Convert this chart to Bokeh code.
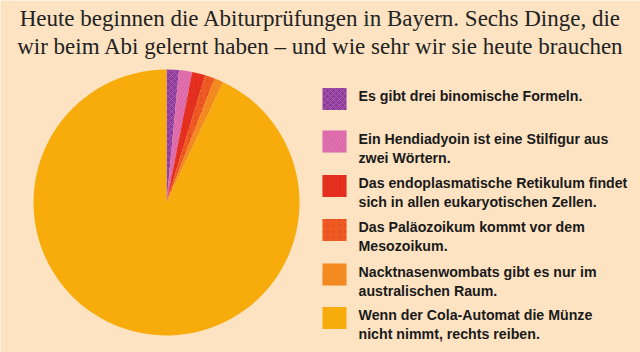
import numpy as np
from bokeh.plotting import figure
from bokeh.models import Range1d, ColumnDataSource
from bokeh.core.properties import value
from bokeh.embed import file_html
from bokeh.resources import INLINE

title_lines = [
    "Heute beginnen die Abiturprüfungen in Bayern. Sechs Dinge, die",
    "wir beim Abi gelernt haben – und wie sehr wir sie heute brauchen",
]
labels = [
    ["Es gibt drei binomische Formeln."],
    ["Ein Hendiadyoin ist eine Stilfigur aus", "zwei Wörtern."],
    ["Das endoplasmatische Retikulum findet", "sich in allen eukaryotischen Zellen."],
    ["Das Paläozoikum kommt vor dem", "Mesozoikum."],
    ["Nacktnasenwombats gibt es nur im", "australischen Raum."],
    ["Wenn der Cola-Automat die Münze", "nicht nimmt, rechts reiben."],
]
shares = [1.5, 1.6, 1.6, 1.2, 1.1, 93.0]
colors = ["#8E3C9C", "#DA66A8", "#E6301F", "#EE5A22", "#F3861A", "#F7AC0C"]
hatch_colors = ["#C27BC7", "#F08DC0", "#D8261A", "#D9481A", "#F7A040", "#F2A000"]
hatches = ["x", "/", "|", ".", "\\", " "]

W, H = 640, 352
BG = "#FDE3C2"

p = figure(width=W, height=H, x_range=Range1d(0, W), y_range=Range1d(0, H),
           output_backend="svg", toolbar_location=None, min_border=0)
p.axis.visible = False
p.grid.visible = False
p.outline_line_color = None
p.background_fill_color = BG
p.border_fill_color = BG

# pie
cx, cy, r = 166, H - 202, 133
frac = np.array(shares) / sum(shares)
ends = np.cumsum(frac) * 2 * np.pi
starts = np.concatenate([[0], ends[:-1]])
src = ColumnDataSource(dict(
    start=np.pi / 2 - starts, end=np.pi / 2 - ends,
    color=colors, hatch=hatches, hcolor=hatch_colors,
))
p.wedge(x=cx, y=cy, radius=r, start_angle="start", end_angle="end",
        direction="clock", fill_color="color", line_color=None,
        hatch_pattern="hatch", hatch_color="hcolor", hatch_alpha=0.5,
        hatch_scale=6, hatch_weight=1, source=src)

# title
for i, t in enumerate(title_lines):
    p.text(x=[320], y=[H - (18 + 28 * i)], text=[t], text_align="center",
           text_baseline="middle", text_font=value("Liberation Serif"),
           text_font_size="23px", text_color="#222222")

# legend
sw_y = [98.5, 141, 185.5, 229.5, 274, 317.5]
lsrc = ColumnDataSource(dict(x=[334] * 6, y=[H - v for v in sw_y], color=colors,
                             hatch=hatches, hcolor=hatch_colors))
p.rect(x="x", y="y", width=24, height=22, fill_color="color", line_color=None,
       hatch_pattern="hatch", hatch_color="hcolor", hatch_alpha=0.5,
       hatch_scale=6, source=lsrc)
for yy, lab in zip(sw_y, labels):
    for j, line in enumerate(lab):
        p.text(x=[358], y=[H - (yy - 3 + 19 * j)], text=[line], text_align="left",
               text_baseline="middle", text_font=value("Liberation Sans"),
               text_font_style="bold", text_font_size="14.2px", text_color="#1A1A1A")

open("out.html", "w").write(file_html(p, INLINE))
